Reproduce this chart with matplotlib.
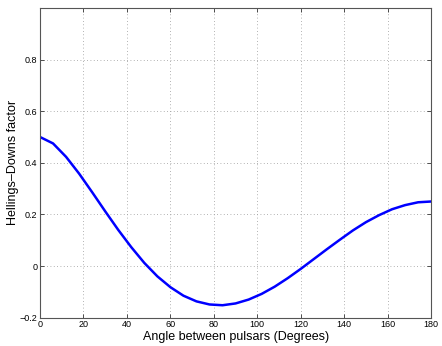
import numpy as np
import matplotlib
matplotlib.use("Agg")
import matplotlib.pyplot as plt

# values, every 6 degrees
angle_deg = [0, 6, 12, 18, 24, 30, 36, 42, 48, 54, 60, 66, 72, 78, 84, 90,
             96, 102, 108, 114, 120, 126, 132, 138, 144, 150, 156, 162, 168, 174, 180]
hd_factor = [0.500, 0.475, 0.423, 0.358, 0.286, 0.212, 0.140, 0.073, 0.012, -0.040,
             -0.082, -0.115, -0.137, -0.149, -0.152, -0.145, -0.130, -0.108, -0.080,
             -0.047, -0.011, 0.027, 0.065, 0.102, 0.138, 0.170, 0.197, 0.220, 0.236,
             0.247, 0.250]

x_ticks = [0, 20, 40, 60, 80, 100, 120, 140, 160, 180]
y_ticks = [-0.2, 0, 0.2, 0.4, 0.6, 0.8]
y_tick_labels = ['\u22120.2', '0', '0.2', '0.4', '0.6', '0.8']

plt.rcParams['font.family'] = ['Liberation Sans', 'DejaVu Sans']

fig = plt.figure(figsize=(4.42, 3.46), dpi=100)
ax = fig.add_axes([0.0905, 0.082, 0.885, 0.895])

ax.plot(angle_deg, hd_factor, '-', color='#0000ff', linewidth=1.8)

ax.set_xlim(0, 180)
ax.set_ylim(-0.2, 1.0)
ax.set_xticks(x_ticks)
ax.set_xticklabels([str(t) for t in x_ticks])
ax.set_yticks(y_ticks)
ax.set_yticklabels(y_tick_labels)
ax.tick_params(direction='in', length=3, width=0.6, labelsize=6.5, colors='#333333',
               top=True, right=True, pad=2)
ax.tick_params(labelcolor='black')
ax.grid(True, linestyle=(0, (1, 3)), color='#999999', linewidth=0.6)
for s in ax.spines.values():
    s.set_color('#555555')
    s.set_linewidth(0.8)

ax.set_xlabel('Angle between pulsars (Degrees)', fontsize=9, labelpad=1)
ax.set_ylabel('Hellings\u2013Downs factor', fontsize=9, labelpad=0.5)

fig.savefig('out.png', dpi=100)
